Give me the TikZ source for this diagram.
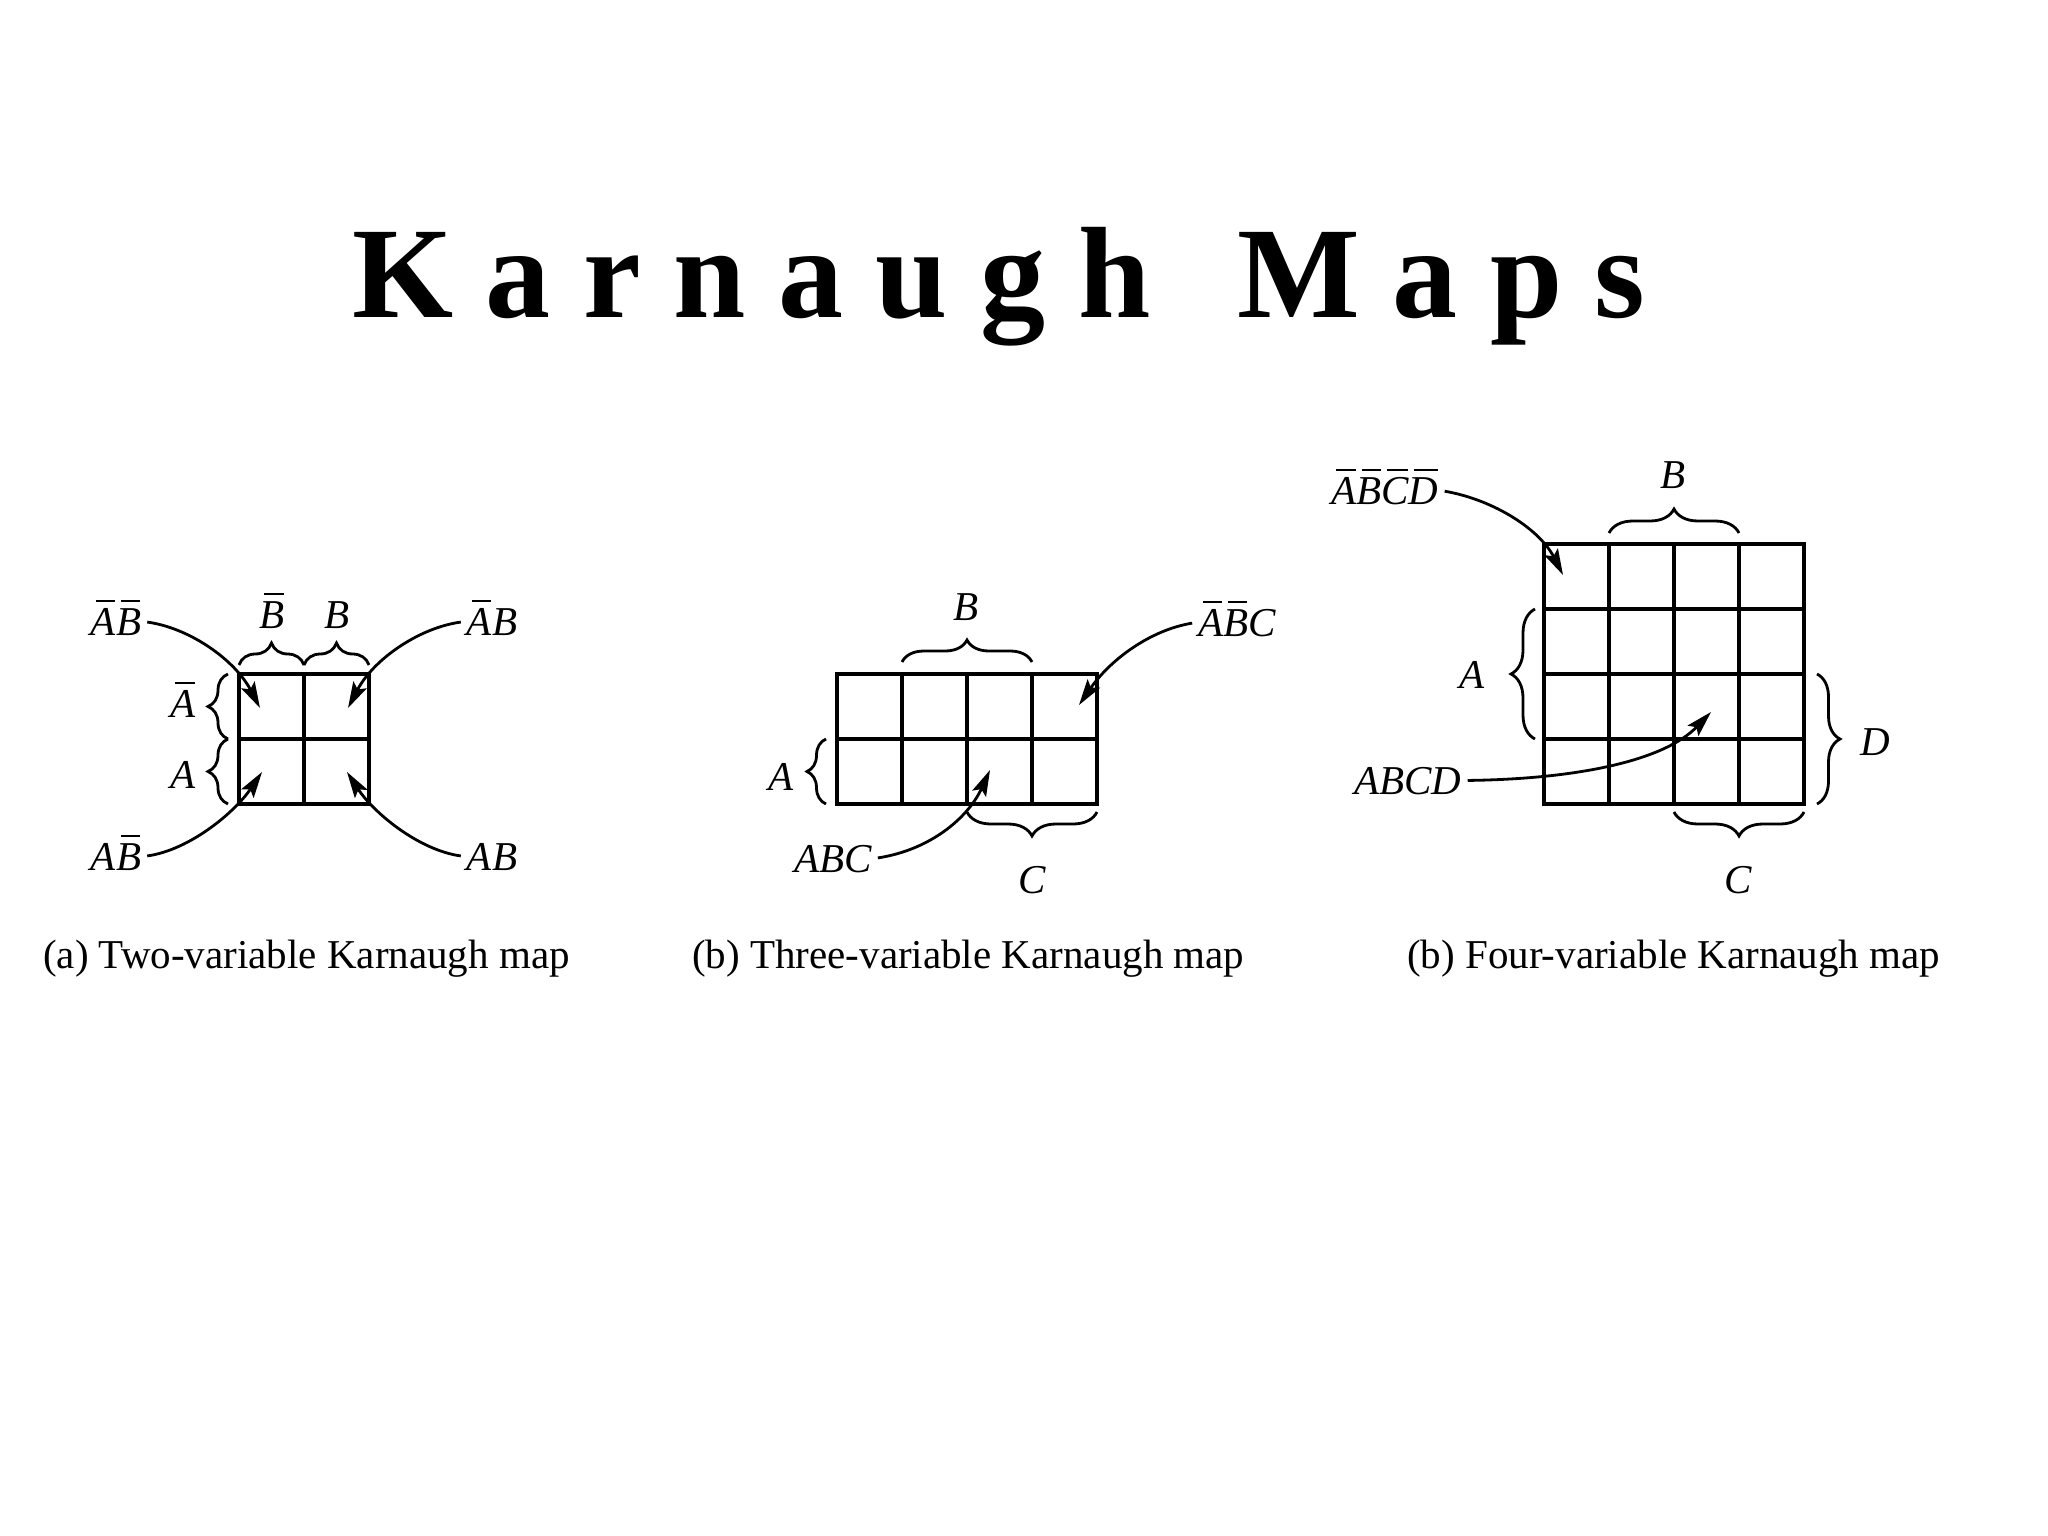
\documentclass[tikz,border=0pt]{standalone}
\usepackage{fontspec}
\setmainfont{Liberation Serif}
\usetikzlibrary{arrows.meta,decorations.pathreplacing}
\newcommand{\ovr}[1]{\begingroup\setbox0\hbox{#1}\rlap{\hspace{5pt}\raisebox{33pt}{\rule{\dimexpr\wd0-6pt\relax}{2.2pt}}}\box0\endgroup}
\tikzset{
  lab/.style={font=\fontsize{41}{48}\selectfont\itshape, inner sep=2pt, text height=27pt, text depth=0pt},
  capt/.style={font=\fontsize{41}{50}\selectfont, anchor=base west, inner sep=0pt},
  gridline/.style={line width=3.2pt},
  arr/.style={line width=2.8pt, shorten <=4pt, -{Stealth[length=26pt,width=15pt,inset=5pt]}},
  brc/.style={line width=2.8pt, decorate, decoration={brace, amplitude=#1}},
  brc/.default=22pt
}
\begin{document}
\begin{tikzpicture}[x=1pt,y=-1pt]
\useasboundingbox (0,0) rectangle (2048,1536);
\fill[white] (0,0) rectangle (2048,1536);

% title
\node[font=\fontsize{130}{150}\selectfont\bfseries, anchor=base, inner sep=0pt] (title) at (999,317) {K a r n a u g h\hspace{0.67em}M a p s};

% ---------- map 1 ----------
\draw[gridline] (239,674) rectangle (369,804);
\draw[gridline] (304,674) -- (304,804);
\draw[gridline] (239,739) -- (369,739);
\draw[brc] (239,665) -- (304,665);
\draw[brc] (304,665) -- (369,665);
\draw[brc=20pt] (228,739) -- (228,674);
\draw[brc=20pt] (228,804) -- (228,739);
\node[lab] (m1nanb) at (116,621.5) {\ovr{A}\ovr{B}};
\node[lab] (m1nb) at (272,614.5) {\ovr{B}};
\node[lab] (m1b) at (337,614.5) {B};
\node[lab] (m1nab) at (492,621.5) {\ovr{A}B};
\node[lab] (m1na) at (183,703.5) {\ovr{A}};
\node[lab] (m1a) at (183,774.5) {A};
\node[lab] (m1anb) at (116,856.5) {A\ovr{B}};
\node[lab] (m1ab) at (492,856.5) {AB};
\coordinate (t11) at (260,708);
\coordinate (t12) at (348,708);
\coordinate (t13) at (262,772);
\coordinate (t14) at (347,772);
\draw[arr] (m1nanb.east) .. controls (190,628) and (235,660) .. (t11);
\draw[arr] (m1nab.west) .. controls (418,628) and (373,660) .. (t12);
\draw[arr] (m1anb.east) .. controls (190,850) and (235,812) .. (t13);
\draw[arr] (m1ab.west) .. controls (418,850) and (373,812) .. (t14);
\node[capt] (cap1) at (43,968) {(a) Two-variable Karnaugh map};

% ---------- map 2 ----------
\draw[gridline] (837,674) rectangle (1097,804);
\foreach \x in {902,967,1032} \draw[gridline] (\x,674) -- (\x,804);
\draw[gridline] (837,739) -- (1097,739);
\draw[brc] (902,662) -- (1032,662);
\draw[brc=19pt] (826,804) -- (826,739);
\draw[brc=24pt] (1097,812) -- (967,812);
\node[lab] (m2b) at (966,606.5) {B};
\node[lab] (m2nanbc) at (1237,622.5) {\ovr{A}\ovr{B}C};
\node[lab] (m2a) at (781,776.5) {A};
\node[lab] (m2abc) at (833,858.5) {ABC};
\node[lab] (m2c) at (1032,879.5) {C};
\coordinate (t21) at (1079,705);
\coordinate (t22) at (990,770);
\draw[arr] (m2nanbc.west) .. controls (1150,630) and (1110,660) .. (t21);
\draw[arr] (m2abc.east) .. controls (930,850) and (968,818) .. (t22);
\node[capt] (cap2) at (692,968) {(b) Three-variable Karnaugh map};

% ---------- map 3 ----------
\draw[gridline] (1544,544) rectangle (1804,804);
\foreach \x in {1609,1674,1739} \draw[gridline] (\x,544) -- (\x,804);
\foreach \y in {609,674,739} \draw[gridline] (1544,\y) -- (1804,\y);
\draw[brc=24pt] (1609,533) -- (1739,533);
\draw[brc=24pt] (1535,739) -- (1535,609);
\draw[brc=23pt] (1817,674) -- (1817,804);
\draw[brc=24pt] (1804,812) -- (1674,812);
\node[lab] (m3nall) at (1385,490.5) {\ovr{A}\ovr{B}\ovr{C}\ovr{D}};
\node[lab] (m3b) at (1673,474.5) {B};
\node[lab] (m3a) at (1472,674.5) {A};
\node[lab] (m3d) at (1875,741.5) {D};
\node[lab] (m3abcd) at (1408,780.5) {ABCD};
\node[lab] (m3c) at (1738,879.5) {C};
\coordinate (t31) at (1563,575);
\coordinate (t32) at (1711,712);
\draw[arr] (m3nall.east) .. controls (1495,500) and (1540,530) .. (t31);
\draw[arr] (m3abcd.east) .. controls (1580,779) and (1665,760) .. (t32);
\node[capt] (cap3) at (1407,968) {(b) Four-variable Karnaugh map};
\end{tikzpicture}
\end{document}
